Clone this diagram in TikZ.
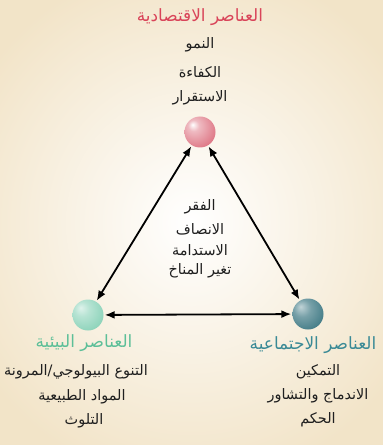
\documentclass[tikz,border=0pt]{standalone}
\usepackage{fontspec}
\newfontfamily\arabicfont[Script=Arabic]{DejaVu Sans}
\TeXXeTstate=1
\usetikzlibrary{arrows.meta,shadings}
\definecolor{cream}{HTML}{F2E4C8}
\definecolor{econ}{HTML}{D94459}
\definecolor{envi}{HTML}{5CBF98}
\definecolor{soci}{HTML}{3A8A96}
\definecolor{ballR}{HTML}{D65466}
\definecolor{ballG}{HTML}{7CCDB0}
\definecolor{ballT}{HTML}{2F6E7A}
\pgfdeclareradialshading{sphR}{\pgfpoint{-12bp}{12bp}}{color(0bp)=(white); color(9bp)=(ballR!40!white); color(40bp)=(ballR!90!white); color(70bp)=(ballR!80!black)}
\pgfdeclareradialshading{sphG}{\pgfpoint{-12bp}{12bp}}{color(0bp)=(ballG!25!white); color(12bp)=(ballG!55!white); color(42bp)=(ballG); color(70bp)=(ballG!85!black)}
\pgfdeclareradialshading{sphT}{\pgfpoint{-12bp}{12bp}}{color(0bp)=(ballT!30!white); color(14bp)=(ballT!65!white); color(42bp)=(ballT); color(70bp)=(ballT!70!black)}
\tikzset{
  ar/.style={font=\arabicfont\fontsize{14.5}{16}\selectfont, inner sep=0pt, anchor=center, text=black!88},
  ttl/.style={font=\arabicfont\fontsize{17}{19}\selectfont, inner sep=0pt, anchor=center},
  ballnode/.style={circle, minimum size=31bp, inner sep=0pt},
  link/.style={line width=1.8bp, {Latex[length=10bp,width=8bp]}-{Latex[length=10bp,width=8bp]}, shorten <=1bp, shorten >=1bp}
}
\begin{document}
\begin{tikzpicture}[x=1bp,y=-1bp]
\useasboundingbox (0,0) rectangle (382,445);
\shade[inner color=white, outer color=cream] (-60,-40) rectangle (442,485);
% spheres
\node[ballnode, shading=sphR] (eco) at (200,132) {};
\node[ballnode, shading=sphG] (env) at (88,315) {};
\node[ballnode, shading=sphT] (soc) at (308,314) {};
% connectors
\draw[link] (eco) -- (env);
\draw[link] (eco) -- (soc);
\draw[link] (env) -- (soc);
% top
\node[ttl, text=econ] (t1) at (200,17) {\beginR العناصر الاقتصادية\endR};
\node[ar] (e1) at (200,45) {\beginR النمو\endR};
\node[ar] (e2) at (200,72) {\beginR الكفاءة\endR};
\node[ar] (e3) at (200,98) {\beginR الاستقرار\endR};
% centre
\node[ar] (c1) at (200,207) {\beginR الفقر\endR};
\node[ar] (c2) at (200,229) {\beginR الانصاف\endR};
\node[ar] (c3) at (200,250) {\beginR الاستدامة\endR};
\node[ar] (c4) at (200,271) {\beginR تغير المناخ\endR};
% left
\node[ttl, text=envi] (t2) at (84,343) {\beginR العناصر البيئية\endR};
\node[ar] (l1) at (76,372) {\beginR التنوع البيولوجي/المرونة\endR};
\node[ar] (l2) at (82,397) {\beginR المواد الطبيعية\endR};
\node[ar] (l3) at (84,421) {\beginR التلوث\endR};
% right
\node[ttl, text=soci] (t3) at (313,345) {\beginR العناصر الاجتماعية\endR};
\node[ar] (r1) at (318,372) {\beginR التمكين\endR};
\node[ar] (r2) at (318,396) {\beginR الاندماج والتشاور\endR};
\node[ar] (r3) at (318,420) {\beginR الحكم\endR};
\end{tikzpicture}
\end{document}
